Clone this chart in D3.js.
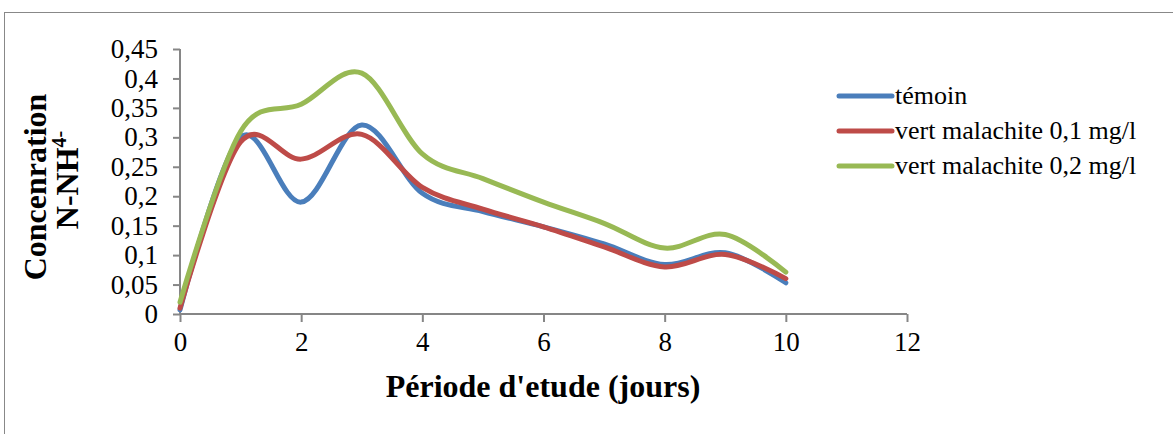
<!DOCTYPE html>
<html>
<head>
<meta charset="utf-8">
<script src="https://cdn.jsdelivr.net/npm/d3@7"></script>
<style>
  body { margin: 0; background: #fff; }
  text { font-family: "Liberation Serif", "Times New Roman", serif; fill: #000; }
  .tick text { font-size: 27px; }
  .axis-title { font-size: 32px; font-weight: bold; }
  .legend-label { font-size: 26px; }
</style>
</head>
<body>
<script>
// Chart size and plot area
const width = 1173;
const height = 434;
const margin = { top: 49, right: 266, bottom: 120, left: 180 };

// Data
const days = [0, 1, 2, 3, 4, 5, 6, 7, 8, 9, 10];
const temoin = [0.007, 0.3, 0.19, 0.321, 0.205, 0.174, 0.148, 0.119, 0.084, 0.104, 0.053];
const vert01 = [0.01, 0.292, 0.263, 0.305, 0.215, 0.178, 0.148, 0.114, 0.08, 0.101, 0.06];
const vert02 = [0.02, 0.31, 0.356, 0.409, 0.272, 0.23, 0.19, 0.154, 0.112, 0.135, 0.071];

const seriesNames = ["témoin", "vert malachite 0,1 mg/l", "vert malachite 0,2 mg/l"];
const seriesColors = ["#4A7EBB", "#BE4B48", "#98B954"];
const seriesValues = [temoin, vert01, vert02];

const xTicks = [0, 2, 4, 6, 8, 10, 12];
const yTicks = [0, 0.05, 0.1, 0.15, 0.2, 0.25, 0.3, 0.35, 0.4, 0.45];

const svg = d3.select("body")
    .append("svg")
    .attr("width", width)
    .attr("height", height);

// Outer chart border
svg.append("rect")
    .attr("x", 4.5)
    .attr("y", 12.5)
    .attr("width", width)
    .attr("height", height)
    .attr("fill", "none")
    .attr("stroke", "#888")
    .attr("stroke-width", 1);

// Scales
const xScale = d3.scaleLinear()
    .domain([0, 12])
    .range([margin.left, 907]);

const yScale = d3.scaleLinear()
    .domain([0, 0.45])
    .range([314, margin.top]);

const fmt = d => d3.format(".2~f")(d).replace(".", ",");

// Axes
const bottomAxis = d3.axisBottom(xScale)
    .tickValues(xTicks)
    .tickSize(8)
    .tickPadding(10);

const leftAxis = d3.axisLeft(yScale)
    .tickValues(yTicks)
    .tickSize(7)
    .tickPadding(15)
    .tickFormat(fmt);

const gx = svg.append("g")
    .attr("transform", `translate(0, ${yScale(0)})`)
    .call(bottomAxis);

const gy = svg.append("g")
    .attr("transform", `translate(${xScale(0)}, 0)`)
    .call(leftAxis);

[gx, gy].forEach(g => {
    g.attr("font-family", null).attr("font-size", null);
    g.select(".domain").attr("stroke", "#868686").attr("stroke-width", 2);
    g.selectAll(".tick line").attr("stroke", "#868686").attr("stroke-width", 2);
});
gx.select(".domain").attr("d", `M${xScale(0)},0H${xScale(12)}`);
gy.select(".domain").attr("d", `M0,${yScale(0)}V${yScale(0.45)}`);

// Lines
const line = d3.line()
    .x((d, i) => xScale(days[i]))
    .y(d => yScale(d))
    .curve(d3.curveCatmullRom.alpha(0));

seriesValues.forEach((vals, k) => {
    svg.append("path")
        .datum(vals)
        .attr("d", line)
        .attr("fill", "none")
        .attr("stroke", seriesColors[k])
        .attr("stroke-width", 5)
        .attr("stroke-linecap", "round")
        .attr("stroke-linejoin", "round");
});

// Axis titles
svg.append("text")
    .attr("class", "axis-title")
    .attr("x", 543)
    .attr("y", 397)
    .attr("text-anchor", "middle")
    .text("Période d'etude (jours)");

const yTitle = svg.append("text")
    .attr("class", "axis-title")
    .attr("transform", "rotate(-90)")
    .attr("text-anchor", "middle");

yTitle.append("tspan")
    .attr("x", -187)
    .attr("y", 46)
    .text("Concenration");

yTitle.append("tspan")
    .attr("x", -180)
    .attr("y", 78)
    .text("N-NH");
yTitle.append("tspan")
    .attr("dy", -12)
    .attr("font-size", 20)
    .text("4-");

// Legend
const legend = svg.append("g");
seriesNames.forEach((name, k) => {
    const ly = 96 + k * 35;
    legend.append("line")
        .attr("x1", 839)
        .attr("x2", 892)
        .attr("y1", ly)
        .attr("y2", ly)
        .attr("stroke", seriesColors[k])
        .attr("stroke-width", 5)
        .attr("stroke-linecap", "round");
    legend.append("text")
        .attr("class", "legend-label")
        .attr("x", 895)
        .attr("y", ly + 8)
        .text(name);
});
</script>
</body>
</html>
